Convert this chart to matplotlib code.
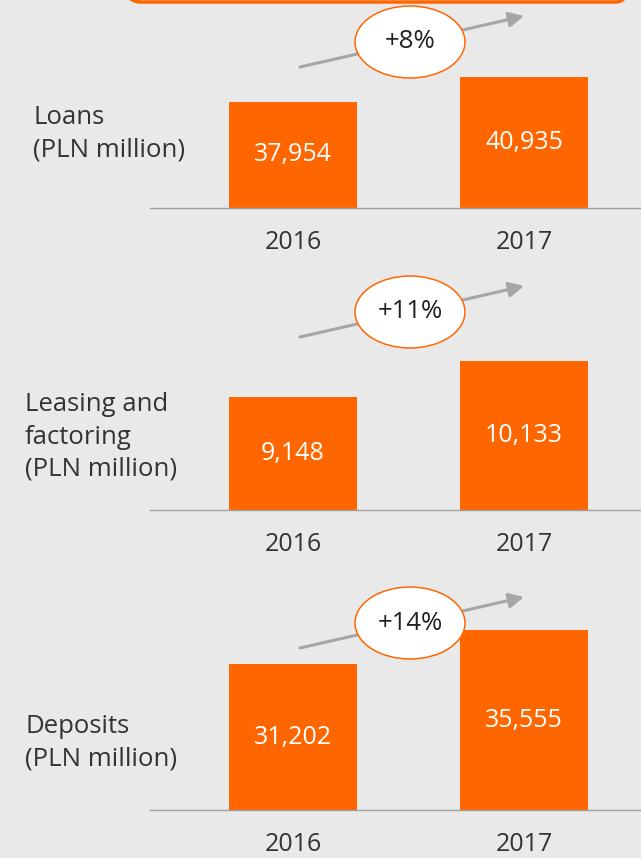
import matplotlib.pyplot as plt
from matplotlib.patches import Ellipse, FancyBboxPatch

# data
years = ["2016", "2017"]
loans = [37954, 40935]
leasing = [9148, 10133]
deposits = [31202, 35555]
growth = ["+8%", "+11%", "+14%"]
labels = ["Loans\n(PLN million)", "Leasing and\nfactoring\n(PLN million)", "Deposits\n(PLN million)"]
series = [loans, leasing, deposits]

# axis bottoms and px-per-unit (each panel has its own cut scale)
y_bottom = [25318, 6056, 12512]
px_per_unit = [0.00839, 0.03655, 0.00781]
baselines = [208, 510, 810]
label_pos = [(33, 134), (25, 437), (25, 743)]

W, H = 641, 858
ORANGE = "#ff6600"
BG = "#e9e9e9"
plt.rcParams['font.family'] = ['Open Sans', 'DejaVu Sans']

fig = plt.figure(figsize=(W / 100, H / 100), dpi=100, facecolor=BG)

# overlay in pixel coords for the decorations
ov = fig.add_axes([0, 0, 1, 1], zorder=5)
ov.set_xlim(0, W)
ov.set_ylim(H, 0)
ov.axis("off")
ov.patch.set_alpha(0)

ov.add_patch(FancyBboxPatch((127, -40), 503, 42, boxstyle="round,pad=0,rounding_size=14",
                            fc="none", ec=ORANGE, lw=2.5, clip_on=False))

x0, x1 = 293, 524
bw = 128
for i, vals in enumerate(series):
    base = baselines[i]
    axh = 200
    ax = fig.add_axes([150 / W, (H - base) / H, 1 - 150 / W, axh / H], zorder=1)
    ax.set_facecolor("none")
    ax.set_xlim((150 - x0) / (x1 - x0), (W - x0) / (x1 - x0))
    ax.set_ylim(y_bottom[i], y_bottom[i] + axh / px_per_unit[i])
    heights = [v - y_bottom[i] for v in vals]
    ax.bar([0, 1], heights, width=bw / (x1 - x0), bottom=y_bottom[i], color=ORANGE)
    for j, v in enumerate(vals):
        ax.text(j, (y_bottom[i] + v) / 2, f"{v:,}", color="white", ha="center", va="center",
                fontsize=18)
    for s in ["top", "right", "left"]:
        ax.spines[s].set_visible(False)
    ax.spines["bottom"].set_color("#a0a0a0")
    ax.spines["bottom"].set_linewidth(1)
    ax.set_yticks([])
    ax.set_xticks([0, 1])
    ax.set_xticklabels(years, fontsize=18, color="#333333")
    ax.tick_params(axis="x", length=0, pad=16)

    # growth arrow + ellipse
    ty = [67, 337, 648][i]
    ov.annotate("", xy=(524, ty - 51), xytext=(300, ty),
                arrowprops=dict(arrowstyle="-|>,head_length=0.9,head_width=0.45",
                                color="#a6a6a6", lw=2.2, shrinkA=0, shrinkB=0))
    cy = ty - 25
    ov.add_patch(Ellipse((410, cy), 110, 72, fc="white", ec=ORANGE, lw=1.1, zorder=3))
    ov.text(410, cy, growth[i], ha="center", va="center", fontsize=18.5, color="#222222", zorder=4)

    lx, ly = label_pos[i]
    ov.text(lx, ly, labels[i], ha="left", va="center", fontsize=18.5, color="#333333",
            linespacing=1.38)

fig.savefig("out.png", dpi=100, facecolor=BG)
